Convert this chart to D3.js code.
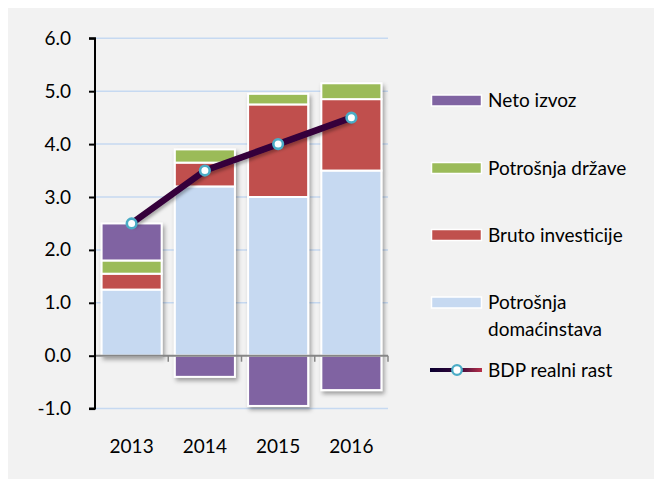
<!DOCTYPE html>
<html><head><meta charset="utf-8">
<script src="https://cdn.jsdelivr.net/npm/d3@7"></script>
<style>
html,body{margin:0;padding:0;background:#fff;}
svg{display:block;}
text{font-family:Lato, "Open Sans", sans-serif;fill:#000;}
</style></head>
<body>
<svg id="chart" width="654" height="479"></svg>
<script>
const years = ["2013","2014","2015","2016"];
const household = [1.25, 3.2, 3.0, 3.5];
const investment = [0.3, 0.45, 1.75, 1.35];
const government = [0.25, 0.25, 0.2, 0.3];
const netExports = [0.7, -0.4, -0.95, -0.65];
const gdpGrowth = [2.5, 3.5, 4.0, 4.5];
const yTicks = [-1, 0, 1, 2, 3, 4, 5, 6];

const seriesNames = ["Potrošnja domaćinstava","Bruto investicije","Potrošnja države","Neto izvoz"];
const seriesValues = [household, investment, government, netExports];
const colors = ["#c6d9f1","#c0504d","#9bbb59","#8064a2"];

const FS = 19;
const svg = d3.select("#chart");
svg.append("rect").attr("x",8).attr("y",8).attr("width",646).attr("height",471).attr("fill","#f2f2f2");

const defs = svg.append("defs");
const f = defs.append("filter").attr("id","shadow").attr("x","-20%").attr("y","-20%").attr("width","150%").attr("height","150%");
f.append("feDropShadow").attr("dx",2).attr("dy",3).attr("stdDeviation",2.2).attr("flood-color","#000").attr("flood-opacity",0.35);
const lf = defs.append("filter").attr("id","lshadow").attr("x","-20%").attr("y","-20%").attr("width","150%").attr("height","150%");
lf.append("feDropShadow").attr("dx",1.5).attr("dy",2.5).attr("stdDeviation",1.8).attr("flood-color","#000").attr("flood-opacity",0.3);
const grad = defs.append("linearGradient").attr("id","lg").attr("gradientUnits","userSpaceOnUse")
  .attr("x1",430).attr("x2",482).attr("y1",0).attr("y2",0);
grad.append("stop").attr("offset","0%").attr("stop-color","#0a0030");
grad.append("stop").attr("offset","55%").attr("stop-color","#35063a");
grad.append("stop").attr("offset","100%").attr("stop-color","#b8304a");

const x = d3.scaleBand().domain(years).range([95, 388]).paddingInner(0.18).paddingOuter(0.09);
const y = d3.scaleLinear().domain([-1, 6]).range([408.6, 38.3]);

// gridlines
svg.append("g").selectAll("line").data(yTicks.filter(d=>d!==0)).join("line")
  .attr("x1",95).attr("x2",388).attr("y1",d=>y(d)).attr("y2",d=>y(d))
  .attr("stroke","#c6d9f1").attr("stroke-width",1.5);

// stacked bars
const bars = svg.append("g");
years.forEach((yr,i)=>{
  const g = bars.append("g").attr("filter","url(#shadow)");
  let pos = 0, neg = 0;
  seriesValues.forEach((vals,s)=>{
    const v = vals[i];
    let y0, y1;
    if (v >= 0) { y0 = pos; y1 = pos + v; pos = y1; }
    else { y0 = neg + v; y1 = neg; neg = y0; }
    g.append("rect")
      .attr("x", x(yr)).attr("width", x.bandwidth())
      .attr("y", y(y1)).attr("height", y(y0)-y(y1))
      .attr("fill", colors[s]).attr("stroke","#fff").attr("stroke-width",2);
  });
});

// zero axis (x)
const xAxisG = svg.append("g").attr("transform",`translate(0,${y(0)})`);
xAxisG.append("line").attr("x1",95).attr("x2",388).attr("y1",0).attr("y2",0).attr("stroke","#868686").attr("stroke-width",2);
xAxisG.selectAll("line.t").data(years).join("line").attr("class","t")
  .attr("x1",d=>x(d)+x.bandwidth()+x.step()*0.09).attr("x2",d=>x(d)+x.bandwidth()+x.step()*0.09)
  .attr("y1",0).attr("y2",6).attr("stroke","#868686").attr("stroke-width",1.5);

// x labels
svg.append("g").selectAll("text").data(years).join("text")
  .attr("x",d=>x(d)+x.bandwidth()/2).attr("y",446).attr("dy","0.35em")
  .attr("text-anchor","middle").attr("font-size",FS).text(d=>d);

// y axis
const yAxis = d3.axisLeft(y).tickValues(yTicks).tickSize(6).tickPadding(18)
  .tickFormat(d=>d3.format(".1f")(d).replace("\u2212","-"));
const yg = svg.append("g").attr("transform","translate(95,0)").call(yAxis);
yg.select(".domain").attr("stroke","#000").attr("stroke-width",2).attr("d",`M-6,${y(6)}H0V${y(-1)}H-6`);
yg.selectAll(".tick line").attr("stroke","#000").attr("stroke-width",2);
yg.selectAll(".tick text").attr("font-size",FS).attr("font-family","Lato, sans-serif").attr("fill","#000");

// GDP line
const line = d3.line().x((d,i)=>x(years[i])+x.bandwidth()/2).y(d=>y(d));
svg.append("path").datum(gdpGrowth).attr("d",line).attr("fill","none")
  .attr("stroke","#35063a").attr("stroke-width",6.5).attr("stroke-linejoin","round").attr("filter","url(#lshadow)");
svg.append("g").selectAll("circle").data(gdpGrowth).join("circle")
  .attr("cx",(d,i)=>x(years[i])+x.bandwidth()/2).attr("cy",d=>y(d)).attr("r",4.8)
  .attr("fill","#fff").attr("stroke","#4bacc6").attr("stroke-width",2.6);

// legend
const legend = svg.append("g");
const legItems = [
  {name:["Neto izvoz"], color:colors[3], y:100.5},
  {name:["Potrošnja države"], color:colors[2], y:168},
  {name:["Bruto investicije"], color:colors[1], y:235},
  {name:["Potrošnja","domaćinstava"], color:colors[0], y:302.5},
];
legItems.forEach(it=>{
  legend.append("rect").attr("x",431.5).attr("y",it.y-5.5).attr("width",50).attr("height",11)
    .attr("fill",it.color).attr("stroke","#fff").attr("stroke-width",1.5);
  it.name.forEach((t,k)=>{
    legend.append("text").attr("x",488).attr("y",it.y+k*27).attr("dy","0.35em").attr("font-size",FS).text(t);
  });
});
legend.append("line").attr("x1",430).attr("x2",482).attr("y1",370).attr("y2",370)
  .attr("stroke","url(#lg)").attr("stroke-width",4);
legend.append("circle").attr("cx",457).attr("cy",370).attr("r",4.8).attr("fill","#fff").attr("stroke","#4bacc6").attr("stroke-width",2.3);
legend.append("text").attr("x",488).attr("y",370).attr("dy","0.35em").attr("font-size",FS).text("BDP realni rast");
</script>
</body></html>
